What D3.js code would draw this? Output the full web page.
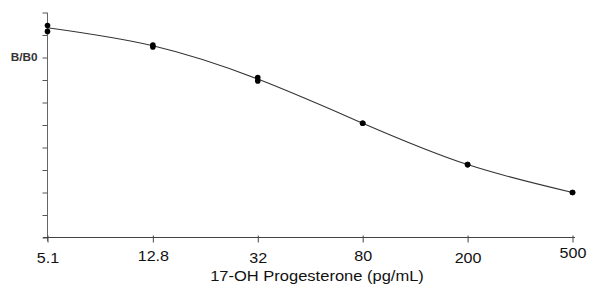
<!DOCTYPE html>
<html>
<head>
<meta charset="utf-8">
<script src="https://cdn.jsdelivr.net/npm/d3@7"></script>
<style>
  body { margin: 0; background: #fff; }
  svg { display: block; }
  text { font-family: "Liberation Sans", Arial, sans-serif; }
</style>
</head>
<body>
<div id="wrapper"></div>
<script>
// concentrations of the standards (pg/mL)
const concentrations = [5.1, 12.8, 32, 80, 200, 500];
const tickLabels = ["5.1", "12.8", "32", "80", "200", "500"];
// duplicate B/B0 readings for each standard
const replicateA = [0.942, 0.855, 0.711, 0.508, 0.324, 0.200];
const replicateB = [0.916, 0.847, 0.696, 0.508, 0.324, 0.200];
// fitted curve through the standards
const fitValues = [0.932, 0.852, 0.704, 0.508, 0.324, 0.200];
const yTicks = [0, 0.1, 0.2, 0.3, 0.4, 0.5, 0.6, 0.7, 0.8, 0.9, 1.0];
const yLabel = "B/B0";
const xTitle = "17-OH Progesterone (pg/mL)";

const width = 590, height = 284;

const svg = d3.select("#wrapper").append("svg")
  .attr("width", width)
  .attr("height", height);

const x = d3.scaleLog()
  .domain([5.1, 500])
  .range([47.5, 572.5]);

const y = d3.scaleLinear()
  .domain([0, 1])
  .range([237.5, 12.5]);

// y axis
const yAxis = svg.append("g")
  .attr("transform", "translate(47.5,0)")
  .call(d3.axisLeft(y)
    .tickValues(yTicks)
    .tickSize(5)
    .tickSizeOuter(0)
    .tickFormat(d => Math.abs(d - 0.8) < 1e-9 ? yLabel : ""));

yAxis.select(".domain").attr("stroke", "#666").attr("d", "M0,12.5V241");
yAxis.selectAll(".tick line").attr("stroke", "#555").attr("x1", -0.5);
yAxis.selectAll(".tick text")
  .attr("x", 0)
  .attr("dy", "0.32em")
  .attr("transform", "translate(-10,0) scale(1.18,1)")
  .attr("fill", "#333")
  .style("font-size", "10px")
  .style("font-weight", "bold");

// x axis
const labelLift = [0, 2, 0, 2, 0, 5];
const xAxis = svg.append("g")
  .attr("transform", "translate(0,237.5)")
  .call(d3.axisBottom(x)
    .tickValues(concentrations)
    .tickSize(5)
    .tickSizeOuter(0)
    .tickFormat((d, i) => tickLabels[i]));

xAxis.select(".domain").attr("stroke", "#444").attr("d", "M43,0H575");
xAxis.selectAll(".tick line").attr("stroke", "#444").attr("y1", -2);
xAxis.selectAll(".tick text")
  .attr("y", 0)
  .attr("dy", 0)
  .attr("transform", (d, i) => `translate(0,${25.5 - labelLift[i]}) scale(1.15,1)`)
  .attr("fill", "#111")
  .style("font-size", "14px");

// x title (kept just inside the bottom edge)
svg.append("text")
  .attr("text-anchor", "middle")
  .attr("transform", "translate(317,280.5) scale(1.18,1)")
  .attr("fill", "#111")
  .style("font-size", "14px")
  .text(xTitle);

// fitted curve
const fit = concentrations.map((c, i) => ({ c, v: fitValues[i] }));
const line = d3.line()
  .x(d => x(d.c))
  .y(d => y(d.v))
  .curve(d3.curveNatural);

svg.append("path")
  .datum(fit)
  .attr("fill", "none")
  .attr("stroke", "#333")
  .attr("stroke-width", 1.1)
  .attr("d", line);

// standards, both replicates
const points = concentrations.flatMap((c, i) => [
  { c, v: replicateA[i] },
  { c, v: replicateB[i] }
]);

svg.append("g")
  .selectAll("circle")
  .data(points)
  .join("circle")
  .attr("cx", d => x(d.c))
  .attr("cy", d => y(d.v))
  .attr("r", 2.8)
  .attr("fill", "#000");
</script>
</body>
</html>
